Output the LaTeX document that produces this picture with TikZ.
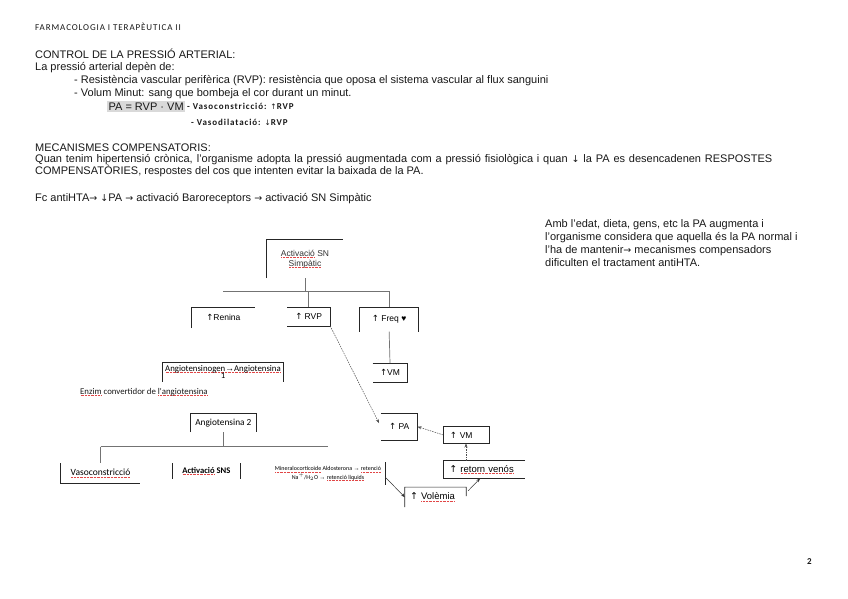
\documentclass[tikz,border=0pt]{standalone}
\usepackage{fontspec}
\setmainfont{Liberation Sans}
\newfontfamily\calibri{Carlito}
\newfontfamily\calibls[LetterSpace=10]{Carlito}
\newfontfamily\libs{Liberation Sans}
\newfontfamily\djv{DejaVu Sans}
\usetikzlibrary{arrows.meta,calc}
\definecolor{spellred}{RGB}{225,70,70}
\definecolor{hl}{RGB}{217,217,217}
\newcommand\spl[1]{\setbox0\hbox{#1}\leavevmode\rlap{\color{spellred}\raisebox{-1.6pt}{\hbox to \wd0{\xleaders\hbox to 1.4pt{\hss\rule{0.7pt}{0.4pt}\hss}\hfill}}}\box0\relax}
\newcommand\myra{{\libs →}}
\newcommand\bra{{\djv\fontsize{9.5}{11}\selectfont →}}
\newcommand\uarr{{\djv ↑}}
\newcommand\darr{{\djv ↓}}
\begin{document}
\begin{tikzpicture}[x=1pt,y=-1pt,
  txt/.style={inner sep=0, anchor=base west, font=\fontsize{11}{13}\selectfont, text=black!90},
  note/.style={inner sep=0, anchor=base west, font=\calibls\bfseries\fontsize{9}{11}\selectfont, text=black!90},
  bx/.style 2 args={inner sep=0, minimum width=#1, minimum height=#2, align=center},
  lab/.style={font=\fontsize{8.5}{10}\selectfont},
  labb/.style={font=\fontsize{9.5}{11}\selectfont},
  cal/.style={font=\calibri\fontsize{9.3}{10}\selectfont},
  edge/.style={line width=0.7pt, black!85},
  tree/.style={line width=0.7pt, black!55},
  darw/.style={line width=0.5pt, black!70, dash pattern=on 1.5pt off 1pt, -{Stealth[length=4pt,width=3pt]}},
  sarw/.style={line width=0.5pt, black!80, -{Stealth[length=4pt,width=3pt]}}
]
\useasboundingbox (0,0) rectangle (848,599);
\fill[white] (0,0) rectangle (848,599);

% ---------- text ----------
\node[txt, font=\calibls\fontsize{9}{11}\selectfont] (hdr) at (35,31) {FARMACOLOGIA I TERAPÈUTICA II};
\node[txt] (t1) at (35,58.5) {CONTROL DE LA PRESSIÓ ARTERIAL:};
\node[txt] (t2) at (35,71) {La pressió arterial depèn de:};
\node[txt] (t3) at (74,84) {- Resistència vascular perifèrica (RVP): resistència que oposa el sistema vascular al flux sanguini};
\node[txt] (t4) at (74,97) {- Volum Minut: sang que bombeja el cor durant un minut.};
\node[txt, fill=hl, inner xsep=1.6pt, inner ysep=1.6pt] (pae) at (106.8,110.5) {PA = RVP · VM};
\node[note] (n1) at (187,110) {- Vasoconstricció: {\djv\mdseries\fontsize{7.5}{9}\selectfont ↑}RVP};
\node[note] (n2) at (191,125) {- Vasodilatació: {\djv\mdseries\fontsize{7.5}{9}\selectfont ↓}RVP};
\node[txt] (m1) at (35,151.5) {MECANISMES COMPENSATORIS:};
\node[txt] (m2) at (35,162.5) {\makebox[737pt][s]{Quan tenim hipertensió crònica, l'organisme adopta la pressió augmentada com a pressió fisiològica i quan {\djv\fontsize{9.5}{11}\selectfont ↓} la PA es desencadenen RESPOSTES}};
\node[txt] (m3) at (35,174.5) {COMPENSATÒRIES, respostes del cos que intenten evitar la baixada de la PA.};
\node[txt] (fc) at (35,201) {Fc antiHTA\bra{} {\djv\fontsize{9.5}{11}\selectfont ↓}PA \bra{} activació Baroreceptors \bra{} activació SN Simpàtic};
\node[txt] (r1) at (545,227) {Amb l'edat, dieta, gens, etc la PA augmenta i};
\node[txt] (r2) at (545,240) {l'organisme considera que aquella és la PA normal i};
\node[txt] (r3) at (545,253) {l'ha de mantenir\bra{} mecanismes compensadors};
\node[txt] (r4) at (545,266) {dificulten el tractament antiHTA.};
\node[txt, font=\calibri\bfseries\fontsize{9}{11}\selectfont] (pg) at (807,564) {2};

% ---------- diagram boxes ----------
\node[bx={76pt}{38pt}, lab, text=black!80] (act) at (305,259) {\spl{Activació} SN\\\spl{Simpàtic}};
\node[bx={63.3pt}{20.7pt}, lab] (renina) at (223.35,317.65) {\uarr Renina};
\node[bx={42.7pt}{18.4pt}, lab] (rvp) at (308.65,316.5) {\uarr{} RVP};
\node[bx={58.3pt}{24.2pt}, lab] (freq) at (389.15,319.4) {\uarr{} Freq ♥};
\node[bx={34.6pt}{18.4pt}, lab] (vm1) at (390,372.5) {\uarr VM};
\node[bx={36.3pt}{26.7pt}, lab] (pa) at (399.15,426.65) {\uarr{} PA};
\node[bx={45.4pt}{16.8pt}, lab, text width=32.4pt, inner xsep=6.5pt, align=left] (vm2) at (466,434.9) {\uarr{} VM};
\node[bx={81.7pt}{17.6pt}, labb, text width=69.7pt, inner xsep=6pt, align=left] (retorn) at (484.15,469.5) {\uarr{} \spl{retorn venós}};
\node[bx={61pt}{19.7pt}, labb, text width=51pt, inner xsep=5pt, align=left] (vol) at (435.5,497.15) {\uarr{} \spl{Volèmia}};
\node[bx={114pt}{22.7pt}, font=\calibri\fontsize{6}{6.7}\selectfont] (mine) at (328,473.65) {\spl{Mineralocorticoide} Aldosterona \myra{} \spl{retenció}\\Na$^{+}$/H$_{2}$O \myra{} \spl{retenció líquids}};
\node[bx={120.6pt}{19pt}, font=\calibri\fontsize{8.8}{7.5}\selectfont] (ago) at (223,372) {\spl{Angiotensinogen\myra Angiotensina}\\1};
\node[txt, font=\calibri\fontsize{8.8}{10}\selectfont] (enz) at (80,394) {\spl{Enzim} convertidor de \spl{l'angiotensina}};
\node[bx={65.3pt}{18.7pt}, cal] (at2) at (223.35,422.65) {Angiotensina 2};
\node[bx={79pt}{20pt}, font=\calibri\fontsize{9.5}{10}\selectfont] (vaso) at (100.5,473.3) {\spl{Vasoconstricció}};
\node[bx={67.3pt}{15pt}, font=\calibri\bfseries\fontsize{8.6}{10}\selectfont] (sns) at (206.35,470.8) {\spl{Activació} SNS};

% partial borders
\draw[edge] (act.south west) -- (act.north west) -- (act.north east);
\draw[edge] (renina.south west) -- (renina.north west) -- (renina.north east);
\draw[edge] (rvp.north west) -- (rvp.north east) -- (rvp.south east) -- (rvp.south west);
\draw[edge] (freq.south west) -- (freq.north west) -- (freq.north east) -- (freq.south east);
\draw[edge] (vm1.north west) -- (vm1.north east) -- (vm1.south east) -- (vm1.south west);
\draw[edge] (pa.north west) -- (pa.north east) -- (pa.south east) -- (pa.south west);
\draw[edge] (vm2.south west) rectangle (vm2.north east);
\draw[edge] (retorn.north east) -- (retorn.north west) -- (retorn.south west) -- (retorn.south east);
\draw[edge] (vol.south west) -- (vol.north west) -- (vol.north east) -- ($(vol.north east)!0.45!(vol.south east)$);
\draw[edge] (mine.north east) -- (mine.south east);
\draw[edge] (ago.south west) -- (ago.north west) -- (ago.north east) -- (ago.south east);
\draw[edge] (at2.south west) -- (at2.north west) -- (at2.north east) -- (at2.south east);
\draw[edge] (vaso.north west) -- (vaso.south west) -- (vaso.south east);
\draw[edge] (sns.north west) -- (sns.south west);
\draw[edge] (sns.north east) -- (sns.south east);

% tree connectors
\coordinate (tj) at (305,291);
\coordinate (tL) at (223.3,291);
\coordinate (tR) at (389.15,291);
\draw[tree] (act.south) -- (tj);
\draw[tree] (tL) -- (tR);
\draw[tree] (rvp.north |- tj) -- (rvp.north);
\draw[tree] (tR) -- (freq.north);
\draw[tree] (freq.south) -- (vm1.north);

\coordinate (bj) at (223.35,446.7);
\coordinate (bL) at (100.5,446.7);
\coordinate (bR) at (328.3,446.7);
\draw[tree] (at2.south) -- (bj);
\draw[tree] (bL) -- (bR);
\draw[tree] (bL) -- (vaso.north);

% arrows
\draw[darw, shorten >=4pt] (rvp.south east) -- (pa.west);
\draw[darw] (vm2.west) -- (pa.east);
\draw[darw] (vm2.south |- retorn.north) -- (vm2.south);
\draw[sarw] ($(vol.north east)!0.18!(vol.south east)+(2,0)$) -- ($(retorn.south west)!0.45!(retorn.south east)$);
\draw[sarw] ($(mine.north east)!0.65!(mine.south east)$) -- (vol.west);
\end{tikzpicture}
\end{document}
